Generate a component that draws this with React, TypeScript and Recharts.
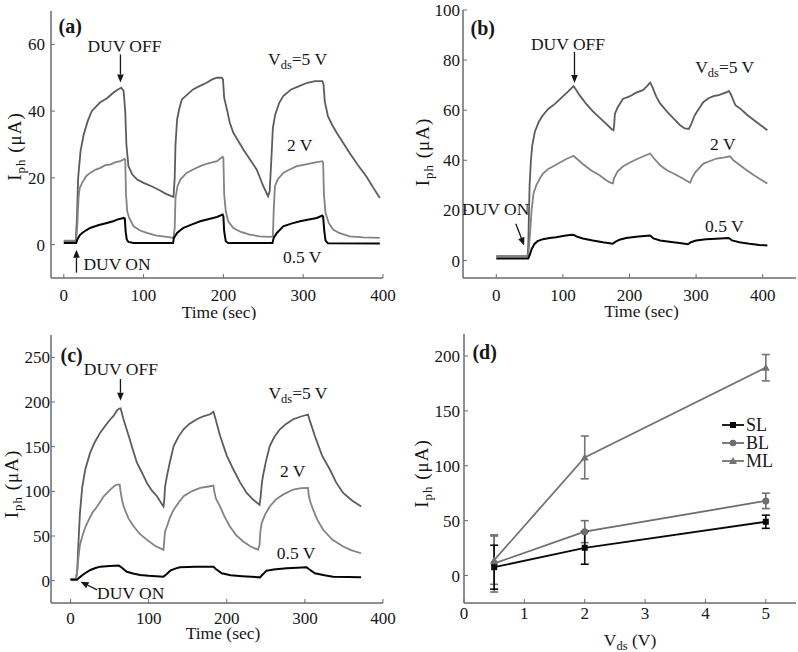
import React from 'react';
import { LineChart, Line, XAxis, YAxis, ReferenceDot, ErrorBar, Legend } from 'recharts';

type Pt = [number, number];

// ---- (a) time traces, µA vs sec ----
const aTicksX = [0, 100, 200, 300, 400];
const aTicksY = [0, 20, 40, 60];
const a5V: Pt[] = [
  [0, 1], [15, 1], [16.5, 8], [18, 20], [21, 28], [25, 33], [30, 37], [35, 40], [45, 42.5], [55, 44], [62, 45.5],
  [68, 46.5], [72, 47], [75, 46], [77, 40], [78.5, 30], [81, 23.5], [86, 21], [92, 19.5], [100, 18.5], [110, 17.5],
  [120, 16.3], [128, 15.2], [134, 14.6], [137.5, 14.3], [139, 20], [140, 30], [142, 37.5], [145, 41], [148, 43.5],
  [155, 45], [162, 46.5], [170, 47.5], [179, 48.5], [186, 49.5], [192, 50], [198, 50], [199.5, 49.5], [201, 44],
  [204, 41], [208, 36.5], [212.5, 33.5], [225, 28.5], [241.7, 22.5], [250, 17.5], [256, 14.5], [258, 16], [260, 25],
  [262, 35], [265, 39], [270, 42.5], [275, 44.5], [285, 46.5], [295, 47.5], [305, 48.5], [315, 49], [324, 49],
  [325.5, 48], [327, 43], [331, 38.5], [336, 36], [342, 33.5], [350, 30.5], [358, 27.5], [368, 24], [379, 20.5],
  [388, 17], [396, 14]
];
const a2V: Pt[] = [
  [0, 1.2], [15.5, 1.2], [17, 6], [18.5, 14], [20, 17], [23, 18.5], [28, 20.5], [33, 21.5], [40, 22.5], [46, 23],
  [52, 23.8], [58, 24], [65, 24.7], [71, 25], [76, 25.7], [77, 25.5], [78, 15], [79.5, 10], [82, 8], [87.5, 5.5],
  [95, 4.3], [104, 3.5], [115, 2.8], [129, 2.3], [137.5, 2], [139, 5], [140, 14], [142.5, 17.5], [146, 19.5],
  [154, 21.5], [162, 22.5], [171, 23.5], [180, 24.3], [192, 25], [199, 26.3], [200, 26], [201, 15], [203, 10],
  [206, 7], [212.5, 5], [222, 3.8], [233, 3], [245, 2.5], [258, 2.3], [262, 2.5], [263, 10], [264.6, 17.5],
  [268, 19.5], [275, 21.5], [283, 22.5], [292, 23.5], [302, 24], [312.5, 24.5], [324, 25], [325, 24.5], [326, 15],
  [328, 9.5], [332, 6.5], [337.5, 4.5], [345, 3.5], [358, 2.5], [375, 2.2], [396, 2]
];
const a05V: Pt[] = [
  [0, 0.5], [15.5, 0.5], [17, 1.5], [20, 2.8], [23, 3.5], [28, 4.3], [33, 5], [43, 5.8], [54, 6.5], [62, 7],
  [67, 7.5], [75, 8], [76.5, 7.8], [77.5, 4], [79, 1.5], [81, 0.8], [87.5, 0.5], [137, 0.5], [138, 2], [142, 3.5],
  [146, 4.3], [150, 5], [160, 6], [171, 7], [182, 7.7], [192, 8.3], [199, 9], [200, 8.5], [201, 4], [203, 1],
  [206, 0.5], [261.5, 0.5], [263, 2], [267, 3.5], [275, 5.5], [285, 6.3], [296, 7], [307, 7.5], [317, 8],
  [324, 8.7], [325, 8.3], [326.5, 4], [328, 1.2], [331, 0.4], [396, 0.3]
];

// ---- (b) ----
const bTicksX = [0, 100, 200, 300, 400];
const bTicksY = [0, 20, 40, 60, 80, 100];
const b5V: Pt[] = [
  [0, 1.7], [47, 1.7], [48, 6], [49, 18], [50, 30], [52, 40], [54, 46], [58, 51.5], [64, 55.5], [70, 58],
  [78, 60.5], [88, 62.5], [98, 65], [108, 67.5], [116, 69.6], [119, 68.5], [125, 66], [135, 62.5], [145, 59.5],
  [155, 57], [165, 54.5], [173, 52.5], [176, 52], [177, 54], [178, 58.5], [182, 61], [190, 64.5], [200, 65.5],
  [210, 67], [220, 68], [226, 69.5], [231, 71], [234, 69.5], [240, 65.5], [246, 62.7], [256, 59.5], [266, 56.7],
  [276, 54], [283, 52.7], [289, 52.5], [292, 54], [298, 58], [304, 60.5], [311, 63.3], [318, 64.7], [326, 65.6],
  [334, 66], [341, 66.7], [346, 67.2], [349, 67.7], [352, 66.5], [355, 64.5], [359, 62], [366, 60.7], [376, 58.3],
  [387, 56], [397, 54], [407, 52]
];
const b2V: Pt[] = [
  [0, 1.5], [47.5, 1.5], [49, 5], [51, 12], [53, 20], [56, 27], [60, 30], [65, 32.5], [70, 34.7], [78, 36.5],
  [85, 37.5], [95, 39], [105, 40.5], [112, 41.3], [116, 41.8], [120, 40.8], [130, 38.5], [142, 36], [155, 34],
  [165, 32], [172, 31], [175, 30.8], [177, 33], [182, 35.5], [190, 37.5], [200, 39], [210, 40.3], [220, 41.5],
  [231, 42.7], [236, 41], [246, 38], [256, 36], [266, 34.7], [278, 33], [291, 31], [294, 33], [299, 35.3],
  [305, 37], [311, 38.7], [320, 39.6], [331, 40.7], [341, 41.1], [351, 41.6], [356, 40], [366, 38], [376, 36],
  [387, 34], [397, 32.3], [407, 30.7]
];
const b05V: Pt[] = [
  [0, 0.8], [48, 0.8], [50, 2], [53, 4.5], [57, 6.5], [62, 7.7], [70, 8.5], [80, 9], [90, 9.3], [100, 9.8],
  [110, 10.2], [116, 10.3], [120, 9.6], [130, 8.8], [145, 8], [160, 7.3], [175, 6.7], [178, 7.3], [185, 8.3],
  [195, 9], [210, 9.5], [222, 9.8], [231, 10], [236, 8.8], [246, 8], [260, 7.5], [275, 7], [288, 6.5], [292, 7.3],
  [300, 8], [315, 8.5], [330, 8.7], [349, 9], [354, 8], [365, 7.3], [380, 6.7], [395, 6.2], [407, 6]
];

// ---- (c) ----
const cTicksX = [0, 100, 200, 300, 400];
const cTicksY = [0, 50, 100, 150, 200, 250];
const c5V: Pt[] = [
  [0, 2], [7, 2], [8.5, 10], [10, 40], [12, 75], [15, 105], [19, 125], [25, 143], [31, 155], [38, 165.7],
  [45, 174], [51, 180.7], [55, 184.4], [57, 187], [59, 190], [62, 192.5], [64, 193], [65, 190], [68, 180],
  [74.5, 162], [80, 146], [85, 132], [92, 120], [98, 109], [104, 101], [110.6, 94.5], [116, 87], [119, 83],
  [120, 90], [121, 105], [123.4, 117], [127, 132], [132, 150.7], [138, 161], [144.7, 169.4], [152, 175.5],
  [161.7, 180.7], [170, 184], [178.7, 186.3], [183, 189], [185, 183], [191.5, 162], [200, 140], [208.5, 124.4],
  [217, 110], [225.5, 98.2], [234, 90.5], [242, 85], [243.5, 95], [245, 110], [247, 120], [250, 133],
  [255, 150.7], [261, 161], [268, 169.4], [276, 175.5], [285, 180.7], [294, 183.5], [304, 186], [306, 180],
  [312.8, 162], [322, 140], [332, 124.4], [340, 110], [349, 98.2], [360, 90], [372, 83]
];
const c2V: Pt[] = [
  [0, 2], [7, 2], [8.5, 10], [10, 25], [12, 40], [15, 49.5], [19, 60], [23.4, 68.2], [28, 76], [34, 83],
  [42.5, 94.5], [51, 102], [56, 106], [59.6, 107.6], [63, 107.6], [64, 100], [66, 90], [68, 83], [74, 70],
  [81, 60.7], [89, 52], [98, 45.7], [108, 39], [119, 34.5], [120, 45], [121, 55], [123.4, 60.7], [127, 70],
  [132, 79.5], [138, 87], [144.7, 94.5], [155, 100], [166, 103.8], [178.7, 105.7], [183, 106.4], [184, 100],
  [186, 92], [191.5, 83], [197, 72], [204, 60.7], [212, 51], [221, 43.9], [230, 38.5], [240, 34.5], [242, 40],
  [243, 55], [244.7, 64.5], [249, 74], [255, 83], [263, 91], [272, 96.3], [285, 102], [295, 103.5], [304, 103.8],
  [305, 95], [307, 88], [310.6, 79.5], [316, 68], [323.4, 57], [335, 46], [349, 38.2], [360, 34], [372, 30.7]
];
const c05V: Pt[] = [
  [0, 1], [8, 1], [10, 2.5], [12.8, 4.5], [18, 8], [25.5, 12], [32, 14.2], [38, 15.7], [50, 16.5], [61.7, 16.9],
  [65, 15], [72, 10], [80, 8], [89, 6.4], [100, 5.5], [119, 4.5], [122, 6.5], [127.7, 11.2], [134, 13.5],
  [140, 15], [160, 15.5], [183, 15.7], [186, 13], [193.6, 8.2], [205, 6], [220, 5], [242.5, 3.7], [245, 6],
  [251, 11.2], [260, 12.5], [276.6, 13.9], [290, 14.5], [302, 15], [305, 13], [312.8, 8.2], [325, 6], [336, 4.5],
  [355, 4], [372, 3.7]
];

// ---- (d) Iph vs Vds ----
const dTicksX = [0, 1, 2, 3, 4, 5];
const dTicksY = [0, 50, 100, 150, 200];
const dVds = [0.5, 2, 5];
const dSL = [7.6, 25.3, 49];
const dSLErr = [20, 15, 6];
const dBL = [11, 40, 68];
const dBLErr = [26, 10, 7];
const dML = [14, 107.6, 189.3];
const dMLErr = [22, 19.5, 12];
const dNames = ['SL', 'BL', 'ML'];

const FONT = '"Liberation Serif", "Times New Roman", serif';
const INK = '#161616';
const FRAME = '#6b6b6b';
const C5 = '#5c5c5c';
const C2 = '#838383';
const C05 = '#050505';
const C_SL = '#0a0a0a';
const C_BL = '#6e6e6e';
const C_ML = '#747474';

const rows = (pts: Pt[]) => pts.map(([t, v]) => ({ t, v }));
const dRows = dVds.map((x, i) => ({
  x, sl: dSL[i], slErr: dSLErr[i], bl: dBL[i], blErr: dBLErr[i], ml: dML[i], mlErr: dMLErr[i]
}));

const tickStyle = { fontSize: 17, fontFamily: FONT, fill: INK };
const axisLine = { stroke: FRAME, strokeWidth: 1.5 };

// text placed at a data point (baseline-left)
const note = (content: React.ReactNode, bold = false) => (p: any) => (
  <text x={p.cx} y={p.cy} fontFamily={FONT} fontSize={bold ? 20 : 17.5} fontWeight={bold ? 'bold' : 'normal'} fill={INK}>
    {content}
  </text>
);

// arrow with its tip at the data point, tail offset by (dx, dy) px
const arrow = (dx: number, dy: number) => (p: any) => {
  const { cx, cy } = p;
  const len = Math.hypot(dx, dy);
  const ux = -dx / len;
  const uy = -dy / len;
  const hl = 8;
  const hw = 3.3;
  const bx = cx - ux * hl;
  const by = cy - uy * hl;
  return (
    <g>
      <line x1={cx + dx} y1={cy + dy} x2={bx} y2={by} stroke={INK} strokeWidth={1.3} />
      <polygon
        points={`${cx},${cy} ${bx - uy * hw},${by + ux * hw} ${bx + uy * hw},${by - ux * hw}`}
        fill={INK}
      />
    </g>
  );
};

const vds = (
  <>
    V<tspan fontSize={12.5} dy={4}>ds</tspan>
    <tspan dy={-4}>=5 V</tspan>
  </>
);

const yLabel = (dx: number, dy: number) => (props: any) => {
  const vb = props.viewBox;
  const x = vb.x + vb.width + dx;
  const y = vb.y + vb.height / 2 + dy;
  return (
    <text x={x} y={y} transform={`rotate(-90 ${x} ${y})`} textAnchor="middle" fontFamily={FONT} fontSize={19}
      letterSpacing={1} fill={INK}>
      I<tspan fontSize={13} dy={4}>ph</tspan>
      <tspan dy={-4}> (μA)</tspan>
    </text>
  );
};

const xLabel = (content: React.ReactNode, dx: number, dy: number) => (props: any) => {
  const vb = props.viewBox;
  return (
    <text x={vb.x + vb.width / 2 + dx} y={vb.y + dy} textAnchor="middle" fontFamily={FONT} fontSize={17.5} fill={INK}>
      {content}
    </text>
  );
};

const frame = (xDomain: number[], yDomain: number[]) => [
  <XAxis key="ft" xAxisId="top" orientation="top" type="number" domain={xDomain} allowDataOverflow height={0}
    tick={false} tickLine={false} axisLine={axisLine} />,
  <YAxis key="fr" yAxisId="right" orientation="right" type="number" domain={yDomain} allowDataOverflow width={0}
    tick={false} tickLine={false} axisLine={axisLine} />
];

type PanelProps = {
  left: number; top: number; width: number; height: number;
  margin: { top: number; right: number; left: number; bottom: number };
  yWidth: number; xHeight: number;
  xDomain: number[]; yDomain: number[]; xTicks: number[]; yTicks: number[];
  xTickMargin: number; yTickMargin: number;
  yLab: [number, number]; xLab: [number, number];
  series: Pt[][];
  children?: React.ReactNode;
};

const seriesColors = [C5, C2, C05];
const seriesWidths = [1.8, 1.8, 2];

function TimePanel(p: PanelProps) {
  return (
    <div style={{ position: 'absolute', left: p.left, top: p.top }}>
      <LineChart width={p.width} height={p.height} margin={p.margin} style={{ overflow: 'visible' }}>
        <XAxis dataKey="t" type="number" domain={p.xDomain} ticks={p.xTicks} allowDataOverflow interval={0}
          height={p.xHeight} tickSize={-4} tickMargin={p.xTickMargin} tick={tickStyle}
          tickLine={{ stroke: FRAME }} axisLine={axisLine}
          label={{ content: xLabel('Time (sec)', p.xLab[0], p.xLab[1]) }} />
        <YAxis type="number" domain={p.yDomain} ticks={p.yTicks} allowDataOverflow interval={0}
          width={p.yWidth} tickSize={-4} tickMargin={p.yTickMargin} tick={tickStyle}
          tickLine={{ stroke: FRAME }} axisLine={axisLine}
          label={{ content: yLabel(p.yLab[0], p.yLab[1]) }} />
        {frame(p.xDomain, p.yDomain)}
        {p.series.map((s, i) => (
          <Line key={i} data={rows(s)} dataKey="v" type="linear" stroke={seriesColors[i]}
            strokeWidth={seriesWidths[i]} dot={false} activeDot={false} isAnimationActive={false} />
        ))}
        {p.children}
      </LineChart>
    </div>
  );
}

const squareDot = (p: any) => <rect key={p.index} x={p.cx - 3} y={p.cy - 3} width={6} height={6} fill={C_SL} />;
const circleDot = (p: any) => <circle key={p.index} cx={p.cx} cy={p.cy} r={3.5} fill={C_BL} />;
const triDot = (p: any) => (
  <polygon key={p.index} points={`${p.cx},${p.cy - 4} ${p.cx - 4},${p.cy + 3} ${p.cx + 4},${p.cy + 3}`} fill={C_ML} />
);

const legendMarks = [
  { color: C_SL, mark: <rect x={8} y={2} width={6} height={6} fill={C_SL} /> },
  { color: C_BL, mark: <circle cx={11} cy={5} r={3.3} fill={C_BL} /> },
  { color: C_ML, mark: <polygon points="11,1 7,8 15,8" fill={C_ML} /> }
];

const DLegend = () => (
  <div style={{ fontFamily: FONT, fontSize: 18, color: INK }}>
    {dNames.map((n, i) => (
      <div key={n} style={{ display: 'flex', alignItems: 'center', height: 18 }}>
        <svg width={22} height={10} style={{ display: 'block' }}>
          <line x1={0} y1={5} x2={22} y2={5} stroke={legendMarks[i].color} strokeWidth={1.8} />
          {legendMarks[i].mark}
        </svg>
        <span style={{ marginLeft: 2, lineHeight: '18px' }}>{n}</span>
      </div>
    ))}
  </div>
);

export default function App() {
  return (
    <div style={{ position: 'absolute', left: 0, top: 0, width: 798, height: 652, background: '#fff', overflow: 'hidden' }}>
      <TimePanel left={0} top={0} width={399} height={320} margin={{ top: 11, right: 16, left: 0, bottom: 0 }}
        yWidth={51} xHeight={42} xDomain={[-16, 400]} yDomain={[-10, 70]} xTicks={aTicksX} yTicks={aTicksY}
        xTickMargin={15} yTickMargin={10} yLab={[-30, 2]} xLab={[2, 39.5]} series={[a5V, a2V, a05V]}>
        <ReferenceDot x={-6.6} y={63.3} r={0} ifOverflow="visible" shape={note('(a)', true)} />
        <ReferenceDot x={29.6} y={57.7} r={0} ifOverflow="visible" shape={note('DUV OFF')} />
        <ReferenceDot x={71} y={48.6} r={0} ifOverflow="visible" shape={arrow(0, -28)} />
        <ReferenceDot x={255.9} y={53.7} r={0} ifOverflow="visible" shape={note(vds)} />
        <ReferenceDot x={279.6} y={28} r={0} ifOverflow="visible" shape={note('2 V')} />
        <ReferenceDot x={274.6} y={-5.4} r={0} ifOverflow="visible" shape={note('0.5 V')} />
        <ReferenceDot x={24.6} y={-7.5} r={0} ifOverflow="visible" shape={note('DUV ON')} />
        <ReferenceDot x={15.9} y={-1.5} r={0} ifOverflow="visible" shape={arrow(0, 23)} />
      </TimePanel>

      <TimePanel left={400} top={0} width={398} height={320} margin={{ top: 10, right: 2, left: 0, bottom: 0 }}
        yWidth={63} xHeight={42} xDomain={[-50, 450]} yDomain={[-7, 100]} xTicks={bTicksX} yTicks={bTicksY}
        xTickMargin={15} yTickMargin={7} yLab={[-34, 8]} xLab={[12, 39]} series={[b5V, b2V, b05V]}>
        <ReferenceDot x={-38.7} y={90} r={0} ifOverflow="visible" shape={note('(b)', true)} />
        <ReferenceDot x={52} y={84} r={0} ifOverflow="visible" shape={note('DUV OFF')} />
        <ReferenceDot x={117.4} y={70.9} r={0} ifOverflow="visible" shape={arrow(0, -31)} />
        <ReferenceDot x={298.6} y={74.7} r={0} ifOverflow="visible" shape={note(vds)} />
        <ReferenceDot x={321} y={44} r={0} ifOverflow="visible" shape={note('2 V')} />
        <ReferenceDot x={313.5} y={11.3} r={0} ifOverflow="visible" shape={note('0.5 V')} />
        <ReferenceDot x={-51.4} y={18} r={0} ifOverflow="visible" shape={note('DUV ON')} />
        <ReferenceDot x={41.8} y={6} r={0} ifOverflow="visible" shape={arrow(-8.3, -21.7)} />
      </TimePanel>

      <TimePanel left={0} top={320} width={399} height={332} margin={{ top: 15, right: 16, left: 0, bottom: 0 }}
        yWidth={51} xHeight={49} xDomain={[-25, 400]} yDomain={[-25, 275]} xTicks={cTicksX} yTicks={cTicksY}
        xTickMargin={13} yTickMargin={5} yLab={[-33.5, 15]} xLab={[6, 36]} series={[c5V, c2V, c05V]}>
        <ReferenceDot x={-12.8} y={244.5} r={0} ifOverflow="visible" shape={note('(c)', true)} />
        <ReferenceDot x={17} y={230.6} r={0} ifOverflow="visible" shape={note('DUV OFF')} />
        <ReferenceDot x={63.9} y={201.4} r={0} ifOverflow="visible" shape={arrow(0, -21.7)} />
        <ReferenceDot x={253.3} y={203.3} r={0} ifOverflow="visible" shape={note(vds)} />
        <ReferenceDot x={268.2} y={116.3} r={0} ifOverflow="visible" shape={note('2 V')} />
        <ReferenceDot x={264} y={24.4} r={0} ifOverflow="visible" shape={note('0.5 V')} />
        <ReferenceDot x={34} y={-21} r={0} ifOverflow="visible" shape={note('DUV ON')} />
        <ReferenceDot x={12.8} y={-1.1} r={0} ifOverflow="visible" shape={arrow(16.7, 8.3)} />
      </TimePanel>

      <div style={{ position: 'absolute', left: 400, top: 320 }}>
        <LineChart width={398} height={332} data={dRows} margin={{ top: 14, right: 2, left: 0, bottom: 0 }}
          style={{ overflow: 'visible' }}>
          <XAxis dataKey="x" type="number" domain={[0, 5.5]} ticks={dTicksX} allowDataOverflow interval={0}
            height={49} tickSize={-4} tickMargin={8} tick={tickStyle} tickLine={{ stroke: FRAME }} axisLine={axisLine}
            label={{
              content: xLabel(
                <>
                  V<tspan fontSize={12.5} dy={4}>ds</tspan>
                  <tspan dy={-4}> (V)</tspan>
                </>,
                0, 43
              )
            }} />
          <YAxis type="number" domain={[-25, 220]} ticks={dTicksY} allowDataOverflow interval={0} width={64}
            tickSize={-4} tickMargin={8} tick={tickStyle} tickLine={{ stroke: FRAME }} axisLine={axisLine}
            label={{ content: yLabel(-35.7, 5) }} />
          {frame([0, 5.5], [-25, 220])}
          <Line dataKey="ml" type="linear" stroke={C_ML} strokeWidth={1.8} dot={triDot} activeDot={false}
            isAnimationActive={false}>
            <ErrorBar dataKey="mlErr" direction="y" width={4} stroke={C_ML} strokeWidth={1.6} />
          </Line>
          <Line dataKey="bl" type="linear" stroke={C_BL} strokeWidth={1.8} dot={circleDot} activeDot={false}
            isAnimationActive={false}>
            <ErrorBar dataKey="blErr" direction="y" width={4} stroke={C_BL} strokeWidth={1.6} />
          </Line>
          <Line dataKey="sl" type="linear" stroke={C_SL} strokeWidth={1.8} dot={squareDot} activeDot={false}
            isAnimationActive={false}>
            <ErrorBar dataKey="slErr" direction="y" width={4} stroke={C_SL} strokeWidth={1.6} />
          </Line>
          <ReferenceDot x={0.14} y={197} r={0} ifOverflow="visible" shape={note('(d)', true)} />
          <Legend layout="vertical" align="center" verticalAlign="middle" content={() => <DLegend />}
            wrapperStyle={{ left: 322, top: 96, width: 60, height: 56 }} />
        </LineChart>
      </div>
    </div>
  );
}
